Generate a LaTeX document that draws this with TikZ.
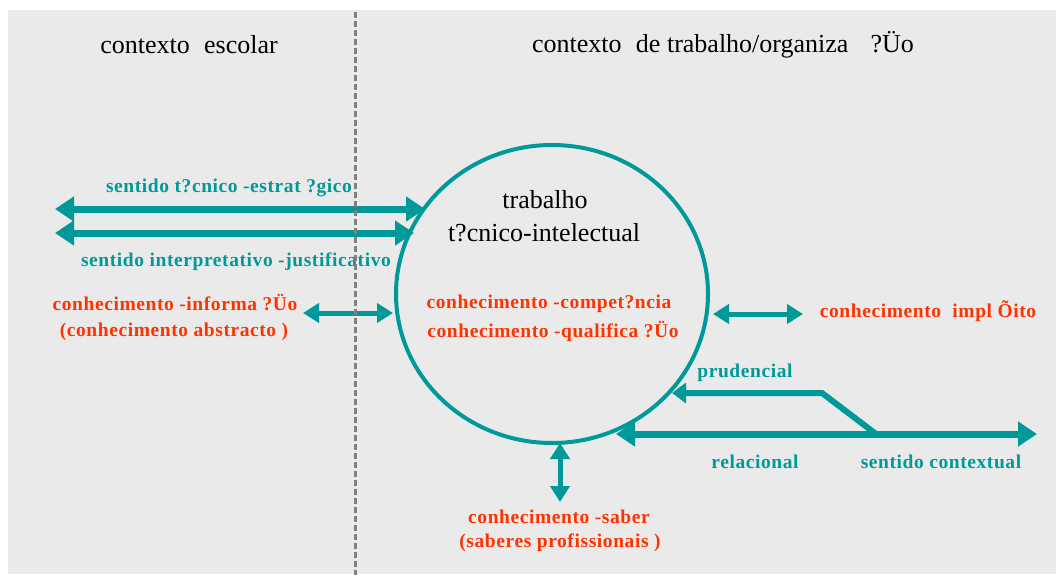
\documentclass[tikz,border=0pt]{standalone}
\usepackage{fontspec}
\setmainfont{Liberation Serif}
\usetikzlibrary{arrows.meta,shapes.geometric}
\definecolor{tealc}{RGB}{0,153,153}
\definecolor{redc}{RGB}{255,51,0}
\definecolor{bgc}{RGB}{234,234,234}
\definecolor{dashc}{RGB}{128,128,128}
\newcommand{\gapx}{\hspace{0.3em}}
\begin{document}
\begin{tikzpicture}[x=1pt,y=-1pt,
  blk/.style={font=\fontsize{26}{30}\selectfont, text=black, inner sep=0pt},
  tl/.style={font=\bfseries\fontsize{19.5}{22}\selectfont\addfontfeature{LetterSpace=3}, text=tealc, inner sep=0pt},
  rl/.style={font=\bfseries\fontsize{19.5}{22}\selectfont\addfontfeature{LetterSpace=3}, text=redc, inner sep=0pt},
  bigarr/.style={draw=tealc, line width=7pt, {Triangle[width=24pt,length=19pt]}-{Triangle[width=24pt,length=19pt]}},
  smallarr/.style={draw=tealc, line width=5pt, {Triangle[width=19pt,length=16pt]}-{Triangle[width=19pt,length=16pt]}},
  divider/.style={draw=dashc, line width=3pt, dash pattern=on 6pt off 3pt}
]
\useasboundingbox (0,0) rectangle (1056,575);
\fill[bgc] (8,10) rectangle (1056,574);

% headings
\node[blk] (hEsc) at (189,45) {contexto\gapx{} escolar};
\node[blk] (hTrab) at (723,45) {contexto\gapx{} de trabalho/organiza\gapx\gapx{} ?Üo};

% central circle
\node[ellipse, draw=tealc, line width=4pt, minimum width=312pt, minimum height=298pt, inner sep=0pt] (circ) at (552,294) {};
\node[blk] (cT1) at (545,200) {trabalho};
\node[blk] (cT2) at (544,233) {t?cnico-intelectual};
\node[rl] (cR1) at (549,304) {conhecimento -compet?ncia};
\node[rl] (cR2) at (553,331) {conhecimento -qualifica ?Üo};

% left arrows
\coordinate (a1l) at (55,209); \coordinate (a1r) at (425,209);
\coordinate (a2l) at (55,233); \coordinate (a2r) at (414,233);
\draw[bigarr] (a1l) -- (a1r);
\draw[bigarr] (a2l) -- (a2r);
\node[tl] (lTec) at (229,188) {sentido t?cnico -estrat ?gico};
\node[tl] (lInt) at (236,262) {sentido interpretativo -justificativo};

% informacao
\node[rl] (rInf1) at (175,303) {conhecimento -informa ?Üo};
\node[rl] (rInf2) at (174,332) {(conhecimento abstracto )};
\coordinate (a3l) at (303,313); \coordinate (a3r) at (393,313);
\draw[smallarr] (a3l) -- (a3r);

% implicito
\coordinate (a4l) at (713,314); \coordinate (a4r) at (803,314);
\draw[smallarr] (a4l) -- (a4r);
\node[rl] (rImp) at (928,311) {conhecimento\gapx{} impl Õito};

% prudencial / relacional / contextual
\coordinate (pTip) at (672,393);
\coordinate (pBend) at (822,393);
\coordinate (pJoin) at (876,434);
\coordinate (bL) at (616,434); \coordinate (bR) at (1037,434);
\draw[bigarr] (bL) -- (bR);
\draw[draw=tealc, line width=6pt, line join=miter, -{Triangle[width=20pt,length=14pt]}] (pJoin) -- (pBend) -- (pTip);
\node[tl] (lPru) at (745,373) {prudencial};
\node[tl] (lRel) at (755,462) {relacional};
\node[tl] (lCtx) at (941,462) {sentido contextual};

% saber
\coordinate (vT) at (560,443); \coordinate (vB) at (560,502);
\draw[smallarr] (vT) -- (vB);
\node[rl] (rSab1) at (559,517) {conhecimento -saber};
\node[rl] (rSab2) at (560,543) {(saberes profissionais )};

% divider
\coordinate (dTop) at (355,12); \coordinate (dBot) at (355,575);
\draw[divider] (dTop) -- (dBot);
\end{tikzpicture}
\end{document}
